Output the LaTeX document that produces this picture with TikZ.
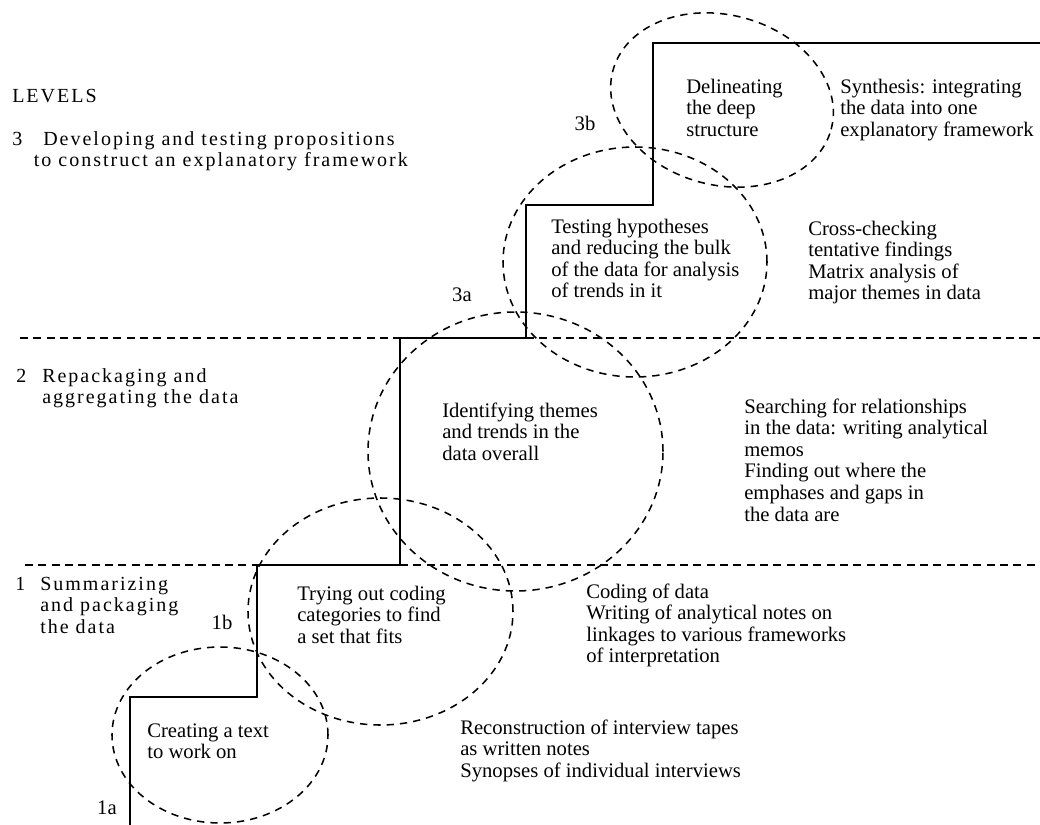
\documentclass[tikz,border=0pt]{standalone}
\usepackage{fontspec}
\setmainfont{Liberation Serif}
\newfontfamily\levelfont[LetterSpace=10]{Liberation Serif}
\usetikzlibrary{shapes.geometric}
% left-aligned block whose baseline is that of its first line
\newcommand\txtlines[1]{\begin{tabular}[t]{@{}l@{}}#1\end{tabular}}
\begin{document}
\begin{tikzpicture}[x=0.75pt,y=-0.75pt,
  ring/.style={draw, ellipse, inner sep=0pt, line width=1.15pt, dash pattern=on 5.5pt off 4.5pt},
  levelline/.style={line width=1.15pt, dash pattern=on 6pt off 4pt},
  stair/.style={line width=1.1pt},
  body/.style={inner sep=0pt, anchor=base west, font=\fontsize{15.5}{16.2}\selectfont},
  tag/.style={inner sep=0pt, font=\fontsize{15.5}{16.2}\selectfont},
  lvl/.style={inner sep=0pt, anchor=base west, font=\levelfont\fontsize{15}{16.2}\selectfont}]
\useasboundingbox (0,0) rectangle (1040,825);

% level boundaries
\coordinate (b2l) at (20,338);  \coordinate (b2m) at (400,338);
\coordinate (b2n) at (526,338); \coordinate (b2r) at (1040,338);
\coordinate (b1l) at (25,565);  \coordinate (b1m) at (257,565);
\coordinate (b1n) at (400,565); \coordinate (b1r) at (1040,565);
\draw[levelline] (b2l) -- (b2m) (b2n) -- (b2r);
\draw[levelline] (b1l) -- (b1m) (b1n) -- (b1r);

% the staircase of stages
\coordinate (s0) at (130,825);
\coordinate (s1) at (130,697);
\coordinate (s2) at (257,697);
\coordinate (s3) at (257,565);
\coordinate (s4) at (400,565);
\coordinate (s5) at (400,338);
\coordinate (s6) at (526,338);
\coordinate (s7) at (526,205);
\coordinate (s8) at (653,205);
\coordinate (s9) at (653,43);
\coordinate (s10) at (1040,43);
\draw[stair] (s0) -- (s1) -- (s2) -- (s3) -- (s4) -- (s5) -- (s6) -- (s7) -- (s8) -- (s9) -- (s10);

% stage rings
\node[ring, minimum width=162pt, minimum height=132pt] (r1a) at (220,735) {};
\node[ring, minimum width=198.75pt, minimum height=170.25pt] (r1b) at (380.5,611.5) {};
\node[ring, minimum width=221.25pt, minimum height=209.25pt] (r2) at (515.5,451.5) {};
\node[ring, minimum width=198pt, minimum height=172.5pt] (r3a) at (635,262) {};
\node[ring, rotate=-15, minimum width=169.5pt, minimum height=127.5pt] (r3b) at (722,100) {};

% level headings
\node[lvl] (levels) at (12,102) {LEVELS};
\node[lvl] (n3) at (12,145) {3};
\node[lvl] (h3) at (43,145) {\txtlines{Developing and testing propositions\\\hspace*{-7pt}to construct an explanatory framework}};
\node[lvl] (n2) at (16,382) {2};
\node[lvl] (h2) at (42,382) {\txtlines{Repackaging and\\aggregating the data}};
\node[lvl] (n1) at (15,590) {1};
\node[lvl] (h1) at (40,590) {\txtlines{Summarizing\\and packaging\\the data}};

% stage tags
\node[tag] (t1a) at (107,808) {1a};
\node[tag] (t1b) at (222,622) {1b};
\node[tag] (t3a) at (462,295) {3a};
\node[tag] (t3b) at (585,123) {3b};

% stage descriptions
\node[body] (d3b) at (686,93) {\txtlines{Delineating\\the deep\\structure}};
\node[body] (d3a) at (551,233) {\txtlines{Testing hypotheses\\and reducing the bulk\\of the data for analysis\\of trends in it}};
\node[body] (d2) at (442,417) {\txtlines{Identifying themes\\and trends in the\\data overall}};
\node[body] (d1b) at (297,600) {\txtlines{Trying out coding\\categories to find\\a set that fits}};
\node[body] (d1a) at (147,737) {\txtlines{Creating a text\\to work on}};

% activities at each stage
\node[body] (a3b) at (840,93) {\txtlines{Synthesis: integrating\\the data into one\\explanatory framework}};
\node[body] (a3a) at (808,235) {\txtlines{Cross-checking\\tentative findings\\Matrix analysis of\\major themes in data}};
\node[body] (a2) at (744,413) {\txtlines{Searching for relationships\\in the data: writing analytical\\memos\\Finding out where the\\emphases and gaps in\\the data are}};
\node[body] (a1b) at (586,598) {\txtlines{Coding of data\\Writing of analytical notes on\\linkages to various frameworks\\of interpretation}};
\node[body] (a1a) at (460,734) {\txtlines{Reconstruction of interview tapes\\as written notes\\Synopses of individual interviews}};
\end{tikzpicture}
\end{document}
